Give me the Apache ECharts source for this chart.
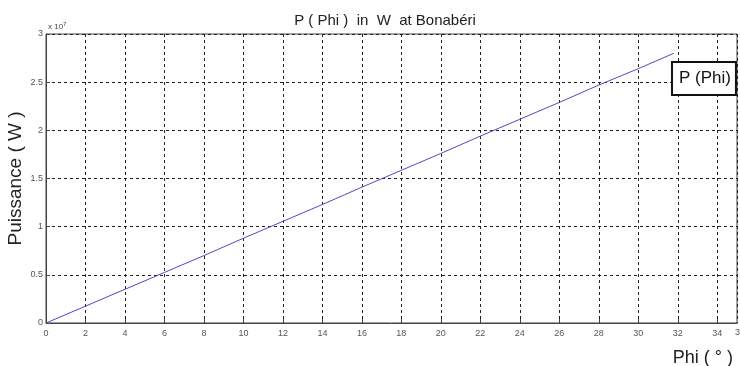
<!DOCTYPE html>
<html>
<head>
<meta charset="utf-8">
<script src="https://cdn.jsdelivr.net/npm/echarts@6/dist/echarts.min.js"></script>
<style>
  html, body { margin: 0; padding: 0; background: #fff; }
  #chart { width: 740px; height: 366px; }
</style>
</head>
<body>
<div id="chart"></div>
<script>
// angle Phi in degrees
var phi = [0, 2, 4, 6, 8, 10, 12, 14, 16, 18, 20, 22, 24, 26, 28, 30, 31.8];
// power P in W (axis is x 10^7)
var power = [0, 1750000, 3500000, 5250000, 7000000, 8800000, 10550000, 12300000,
  14100000, 15850000, 17600000, 19400000, 21150000, 22900000, 24700000, 26400000, 28000000];
var yScale = 1e7;

var chart = echarts.init(document.getElementById('chart'));

var points = phi.map(function (p, i) { return [p, power[i]]; });

chart.setOption({
  animation: false,
  backgroundColor: '#fff',
  title: {
    text: 'P ( Phi )  in  W  at Bonabéri',
    left: 380,
    textAlign: 'center',
    top: 8,
    textStyle: { fontFamily: 'Liberation Sans', fontSize: 15, fontWeight: 'normal', color: '#222' }
  },
  legend: {
    left: 672,
    top: 62,
    data: ['P (Phi)'],
    icon: 'rect',
    itemWidth: 0,
    itemHeight: 0,
    itemGap: 0,
    padding: [8, 5, 8, 2],
    borderColor: '#111',
    borderWidth: 2,
    borderRadius: 0,
    backgroundColor: '#fff',
    textStyle: { fontFamily: 'Liberation Sans', fontSize: 17, color: '#111', padding: [0, 0, 0, 0] }
  },
  grid: {
    left: 46, right: 3, top: 34, bottom: 43,
    outerBoundsMode: 'none',
    containLabel: false,
    show: true, borderColor: '#444', borderWidth: 1
  },
  xAxis: {
    type: 'value',
    min: 0, max: 35, interval: 2,
    name: 'Phi ( ° )',
    nameLocation: 'end',
    nameGap: 0,
    nameTextStyle: { fontFamily: 'Liberation Sans', fontSize: 18, color: '#222', align: 'right', verticalAlign: 'top', padding: [26, 4, 0, 0] },
    axisLine: { lineStyle: { color: '#444' } },
    axisTick: { inside: true, length: 4, lineStyle: { color: '#444' } },
    axisLabel: { fontFamily: 'Liberation Sans', fontSize: 9, color: '#555', margin: 6, showMaxLabel: false },
    splitLine: { show: true, lineStyle: { color: '#222', type: [3, 3], width: 1 } }
  },
  yAxis: {
    type: 'value',
    min: 0, max: 3 * yScale, interval: 0.5 * yScale,
    name: 'Puissance ( W )',
    nameLocation: 'middle',
    nameMoveOverlap: false,
    nameGap: 21,
    nameTextStyle: { fontFamily: 'Liberation Sans', fontSize: 19, color: '#222' },
    axisLine: { lineStyle: { color: '#444' } },
    axisTick: { inside: true, length: 4, lineStyle: { color: '#444' } },
    axisLabel: {
      fontFamily: 'Liberation Sans', fontSize: 9, color: '#555', margin: 3,
      formatter: function (v) { return String(v / yScale); }
    },
    splitLine: { show: true, lineStyle: { color: '#222', type: [3, 3], width: 1 } }
  },
  graphic: [
    {
      type: 'text', left: 48, top: 21,
      style: {
        text: '{a|x 10}{b|7}',
        rich: {
          a: { fontFamily: 'Liberation Sans', fontSize: 8, fill: '#444' },
          b: { fontFamily: 'Liberation Sans', fontSize: 6, fill: '#444', verticalAlign: 'top', padding: [0, 0, 5, 0] }
        }
      }
    },
    {
      type: 'text', left: 735, top: 328,
      style: { text: '3', fontFamily: 'Liberation Sans', fontSize: 9, fill: '#555' }
    }
  ],
  series: [{
    name: 'P (Phi)',
    type: 'line',
    data: points,
    showSymbol: false,
    lineStyle: { color: '#4b4bc4', width: 1 },
    itemStyle: { color: '#4b4bc4' }
  }]
});
</script>
</body>
</html>
